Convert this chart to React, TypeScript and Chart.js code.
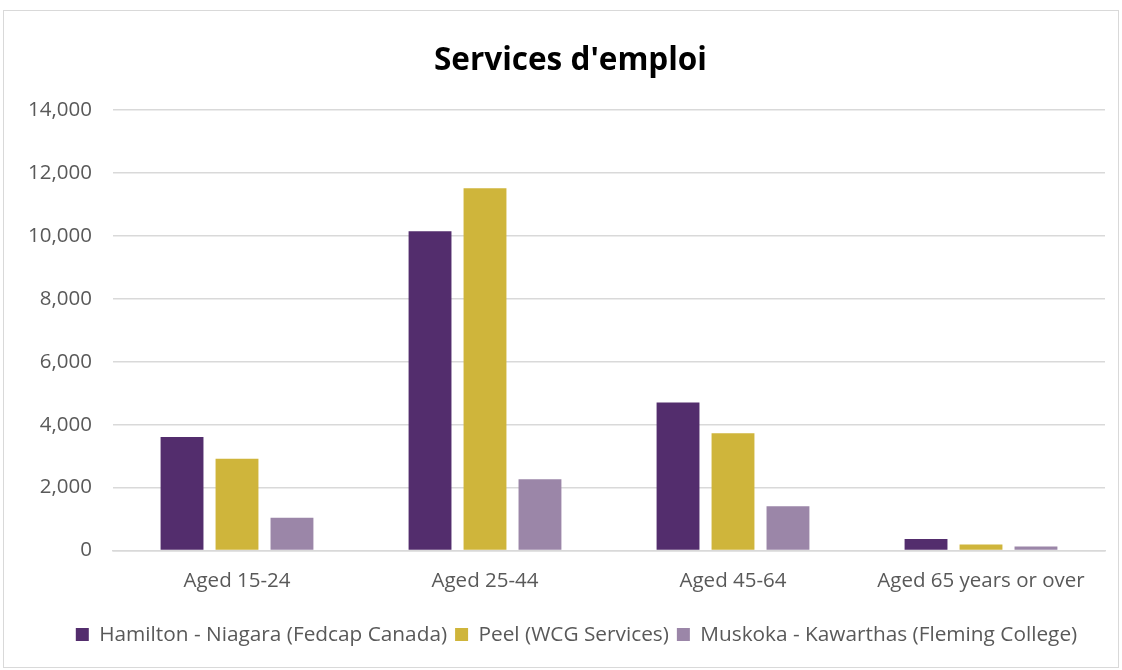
import React, { useEffect, useRef } from 'react';
import { Chart, registerables, ChartConfiguration, Plugin } from 'chart.js';

Chart.register(...registerables);

const categories = ['Aged 15-24', 'Aged 25-44', 'Aged 45-64', 'Aged 65 years or over'];
const seriesNames = [
  'Hamilton - Niagara (Fedcap Canada)',
  'Peel (WCG Services)',
  'Muskoka - Kawarthas (Fleming College)',
];
const hamiltonValues = [3610, 10140, 4700, 370];
const peelValues = [2920, 11510, 3730, 190];
const muskokaValues = [1040, 2270, 1410, 130];
const seriesColors = ['#532D6D', '#CFB53B', '#9B86A8'];
const yTicks = [0, 2000, 4000, 6000, 8000, 10000, 12000, 14000];

const FONT = "'Open Sans', sans-serif";

// Excel centres title and legend on the whole frame, not on the padded box
const shiftBlocks: Plugin = {
  id: 'shiftBlocks',
  afterLayout(chart) {
    const c = chart as any;
    if (c.titleBlock) {
      c.titleBlock.left += 14;
      c.titleBlock.right += 14;
    }
    if (c.legend) {
      c.legend.left += 20;
      c.legend.right += 20;
    }
  },
};

export default function App() {
  const canvasRef = useRef<HTMLCanvasElement>(null);
  const chartRef = useRef<Chart | null>(null);

  useEffect(() => {
    document.body.style.margin = '0';
    if (!canvasRef.current) return;
    if (chartRef.current) chartRef.current.destroy();
    const ctx = canvasRef.current.getContext('2d');
    if (!ctx) return;

    const values = [hamiltonValues, peelValues, muskokaValues];

    const config: ChartConfiguration = {
      type: 'bar',
      data: {
        labels: categories,
        datasets: seriesNames.map((name, i) => ({
          label: name,
          data: values[i],
          backgroundColor: seriesColors[i],
          borderWidth: 0,
          barPercentage: 0.78,
          categoryPercentage: 0.665,
        })),
      },
      options: {
        responsive: true,
        maintainAspectRatio: false,
        animation: false,
        layout: { padding: { left: 8, right: 17, top: 10, bottom: 13 } },
        plugins: {
          title: {
            display: true,
            text: "Services d'emploi",
            color: '#000000',
            font: { family: FONT, size: 31.5, weight: 'bold' },
            padding: { top: 22, bottom: 30 },
          },
          legend: {
            position: 'bottom',
            labels: {
              color: '#595959',
              font: { family: FONT, size: 20.8 },
              boxWidth: 13,
              boxHeight: 13,
              padding: 8,
            },
          },
          tooltip: { enabled: false },
        },
        scales: {
          x: {
            grid: { display: false, drawTicks: false },
            border: { display: true, color: '#D9D9D9', width: 1.5 },
            ticks: {
              color: '#595959',
              font: { family: FONT, size: 20.5 },
              padding: 18,
            },
            afterFit: (axis) => {
              axis.height += 5;
            },
          },
          y: {
            min: 0,
            max: 14000,
            afterBuildTicks: (axis) => {
              axis.ticks = yTicks.map((v) => ({ value: v }));
            },
            afterFit: (axis) => {
              axis.width = 105;
            },
            grid: { color: '#D9D9D9', lineWidth: 1.5, drawTicks: false },
            border: { display: false },
            ticks: {
              color: '#595959',
              font: { family: FONT, size: 20.5 },
              padding: 21,
              callback: (value) => Number(value).toLocaleString('en-US'),
            },
          },
        },
      },
      plugins: [shiftBlocks],
    };

    chartRef.current = new Chart(ctx, config);
    return () => {
      if (chartRef.current) {
        chartRef.current.destroy();
        chartRef.current = null;
      }
    };
  }, []);

  return (
    <div style={{ position: 'relative', width: 1122, height: 670, background: '#fff' }}>
      <div
        style={{
          position: 'absolute',
          left: 3,
          top: 10,
          right: 3,
          bottom: 2,
          border: '1px solid #D9D9D9',
          pointerEvents: 'none',
        }}
      />
      <div style={{ position: 'absolute', left: 0, top: 10, width: 1122, height: 658 }}>
        <canvas ref={canvasRef} />
      </div>
    </div>
  );
}
